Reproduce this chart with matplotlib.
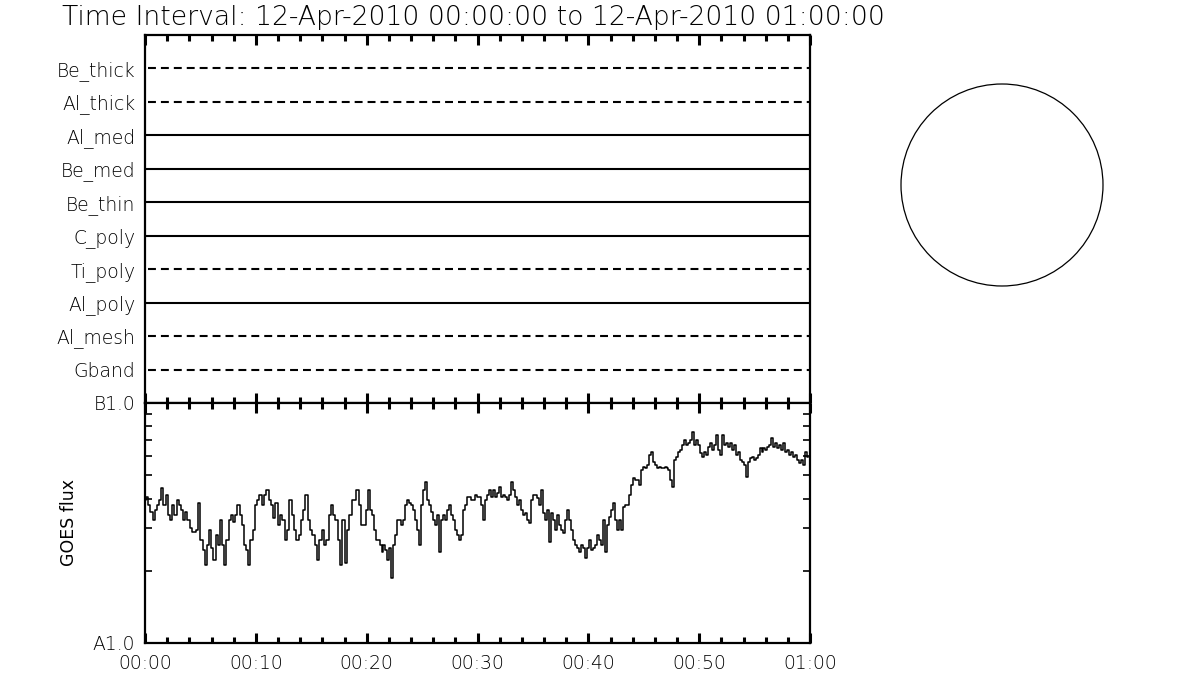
import numpy as np
import matplotlib
matplotlib.use("Agg")
import matplotlib.pyplot as plt
from matplotlib.ticker import MultipleLocator, FixedLocator, NullFormatter

plt.rcParams['font.family'] = ['DejaVu Sans']
plt.rcParams['font.weight'] = 'light'

title = "Time Interval: 12-Apr-2010 00:00:00 to 12-Apr-2010 01:00:00"

# Upper panel: channel names (top to bottom) and whether the line is dashed
channels = ["Be_thick", "Al_thick", "Al_med", "Be_med", "Be_thin",
            "C_poly", "Ti_poly", "Al_poly", "Al_mesh", "Gband"]
dashed = [True, True, False, False, False, False, True, False, True, True]

# GOES flux (units of 1e-8 W/m^2), one list per 10 minutes
goes_00_10 = [3.94, 4.06, 3.76, 3.51, 3.25, 3.58, 3.76, 3.94, 4.42, 3.76, 4.14, 3.41, 3.25,
              3.76, 3.41, 3.94, 3.76, 3.58, 3.25, 3.51, 3.25, 3.01, 2.90, 2.90, 2.96, 3.83,
              2.69, 2.44, 2.11, 2.56, 2.96, 2.49, 2.22, 2.82, 2.56, 3.25, 2.56, 2.11, 2.69,
              3.25, 3.41, 3.19, 3.41, 3.76, 3.41, 3.10, 2.56, 2.44, 2.11, 2.69, 2.96]
goes_10_20 = [3.76, 3.94, 4.14, 3.76, 4.14, 4.34, 3.94, 3.76, 3.32, 3.83, 3.10, 3.41, 3.25,
              2.69, 2.96, 3.94, 3.41, 2.96, 2.69, 2.82, 3.25, 3.58, 4.14, 3.25, 2.96, 2.82,
              2.56, 2.22, 2.69, 2.96, 2.56, 2.69, 3.41, 3.76, 3.41, 3.25, 2.69, 2.11, 3.25,
              2.15, 2.96, 3.41, 3.94, 3.94, 4.34, 3.76, 3.10, 3.10]
goes_20_30 = [3.58, 4.34, 3.58, 3.41, 2.96, 2.69, 2.69, 2.56, 2.39, 2.56, 2.44, 2.22, 2.49,
              1.87, 2.56, 2.82, 3.25, 3.25, 3.10, 3.25, 3.76, 3.94, 3.83, 3.76, 3.58, 3.25,
              2.96, 2.56, 3.76, 4.34, 4.69, 3.94, 3.76, 3.51, 3.25, 3.10, 3.41, 2.39, 3.25,
              3.41, 3.25, 3.58, 3.76, 3.41, 3.25, 2.96, 2.82, 2.69, 2.82, 3.58, 3.76, 4.06,
              4.06, 3.94, 3.94, 4.14]
goes_30_40 = [4.06, 4.06, 3.76, 3.25, 3.94, 4.14, 4.34, 4.06, 4.34, 4.06, 4.22, 4.47, 4.06,
              4.14, 4.06, 3.94, 4.14, 4.69, 4.34, 4.06, 3.76, 3.94, 3.58, 3.41, 3.48, 3.25,
              3.16, 3.94, 4.14, 4.14, 4.02, 3.76, 4.34, 3.48, 3.25, 3.58, 2.64, 3.48, 3.25,
              2.96, 3.41, 3.10, 2.96, 2.87, 3.25, 3.58, 3.25, 2.96, 2.69, 2.56, 2.49, 2.39,
              2.56, 2.49, 2.26]
goes_40_50 = [2.49, 2.69, 2.44, 2.49, 2.56, 2.82, 2.69, 2.56, 3.25, 2.39, 3.10, 3.35, 3.58,
              3.83, 3.25, 2.96, 3.25, 2.96, 3.69, 3.76, 3.76, 4.14, 4.55, 4.87, 4.78, 4.78,
              4.55, 5.26, 5.41, 5.36, 5.52, 6.07, 6.25, 5.68, 5.52, 5.36, 5.41, 5.36, 5.36,
              5.41, 5.36, 5.26, 4.78, 4.47, 5.79, 5.96, 6.25, 6.37, 6.68, 7.01, 6.68, 6.81,
              7.01, 7.57, 6.68, 7.01]
goes_50_60 = [6.68, 6.19, 5.96, 6.25, 6.07, 6.56, 6.81, 6.37, 6.68, 7.36, 6.37, 6.07, 7.36,
              6.68, 6.81, 6.56, 6.81, 6.37, 6.68, 6.07, 6.25, 5.79, 5.68, 5.52, 4.92, 5.68,
              5.90, 5.96, 5.79, 5.90, 6.07, 6.49, 6.25, 6.49, 6.37, 6.56, 6.68, 7.15, 6.56,
              6.81, 6.49, 6.68, 6.37, 6.81, 6.25, 6.37, 6.07, 6.25, 5.96, 6.07, 5.79, 5.62,
              5.79, 5.52, 6.25, 5.96]
segments = [goes_00_10, goes_10_20, goes_20_30, goes_30_40, goes_40_50, goes_50_60]

x_major = [0, 10, 20, 30, 40, 50, 60]
x_labels = ["00:00", "00:10", "00:20", "00:30", "00:40", "00:50", "01:00"]
y_ticks = [1e-8, 1e-7]
y_labels = ["A1.0", "B1.0"]

# build time axis (minutes) per segment
t_list, f_list = [], []
for k, seg in enumerate(segments):
    n = len(seg)
    t_list.append(10 * k + np.arange(n) * 10.0 / n)
    f_list.append(np.array(seg) * 1e-8)
t = np.concatenate(t_list)
flux = np.concatenate(f_list)

W, H = 1200, 700
fig = plt.figure(figsize=(12, 7), dpi=100)

def fx(px):
    return px / W

def fy(py):
    return 1 - py / H

L, R = 145, 810
ax1 = fig.add_axes([fx(L), fy(403), fx(R - L), (403 - 35) / H])
ax2 = fig.add_axes([fx(L), fy(643), fx(R - L), (643 - 403) / H])

spine_w = 1.6
lab_fs = 13.5

# ---- top panel ----
n = len(channels)
for i, (name, d) in enumerate(zip(channels, dashed)):
    ypos = n - i
    if d:
        ax1.plot([0.3, 60], [ypos, ypos], color='black', lw=1.5,
                 linestyle=(0, (3.8, 2.4)), solid_capstyle='butt', dash_capstyle='butt')
    else:
        ax1.plot([0, 60], [ypos, ypos], color='black', lw=1.5, solid_capstyle='butt')
ax1.set_xlim(0, 60)
ax1.set_ylim(0, n + 1)
ax1.set_yticks([n - i for i in range(n)])
ax1.set_yticklabels(channels, fontsize=lab_fs)
ax1.tick_params(axis='y', length=0, pad=7)
ax1.xaxis.set_major_locator(FixedLocator(x_major))
ax1.xaxis.set_minor_locator(MultipleLocator(2))
ax1.tick_params(axis='x', which='both', direction='in', top=True, bottom=True,
                labelbottom=False, width=2.2)
ax1.tick_params(axis='x', which='major', length=7)
ax1.tick_params(axis='x', which='minor', length=4)
for s in ax1.spines.values():
    s.set_linewidth(spine_w)

# ---- bottom panel ----
ax2.plot(t, flux, color='black', lw=1.1, drawstyle='steps-mid')
ax2.set_yscale('log')
ax2.set_xlim(0, 60)
ax2.set_ylim(1e-8, 1e-7)
ax2.set_yticks(y_ticks)
ax2.set_yticklabels(y_labels, fontsize=lab_fs)
ax2.yaxis.set_minor_locator(FixedLocator([m * 1e-8 for m in range(2, 10)]))
ax2.yaxis.set_minor_formatter(NullFormatter())
ax2.tick_params(axis='y', which='both', direction='in', left=True, right=True, width=1.2)
ax2.tick_params(axis='y', which='major', length=0, pad=7)
ax2.tick_params(axis='y', which='minor', length=5)
ax2.xaxis.set_major_locator(FixedLocator(x_major))
ax2.set_xticklabels(x_labels, fontsize=lab_fs)
ax2.xaxis.set_minor_locator(MultipleLocator(2))
ax2.tick_params(axis='x', which='both', direction='in', top=True, bottom=True, width=2.2, pad=8)
ax2.tick_params(axis='x', which='major', length=7)
ax2.tick_params(axis='x', which='minor', length=4)
ax2.set_ylabel("GOES flux", fontsize=12.5)
ax2.yaxis.set_label_coords(-0.1, 0.5)
for s in ax2.spines.values():
    s.set_linewidth(spine_w)

# ---- title ----
fig.text(fx(62), fy(17), title, fontsize=19.2, ha='left', va='center')

# ---- solar disk outline ----
cx, cy, r = 1002, 185, 101
ax3 = fig.add_axes([fx(cx - r - 5), fy(cy + r + 5), fx(2 * r + 10), (2 * r + 10) / H])
ax3.set_xlim(-(r + 5), r + 5)
ax3.set_ylim(-(r + 5), r + 5)
ax3.add_patch(plt.Circle((0, 0), r, fill=False, color='black', lw=0.9))
ax3.axis('off')

fig.savefig("out.png", dpi=100)
